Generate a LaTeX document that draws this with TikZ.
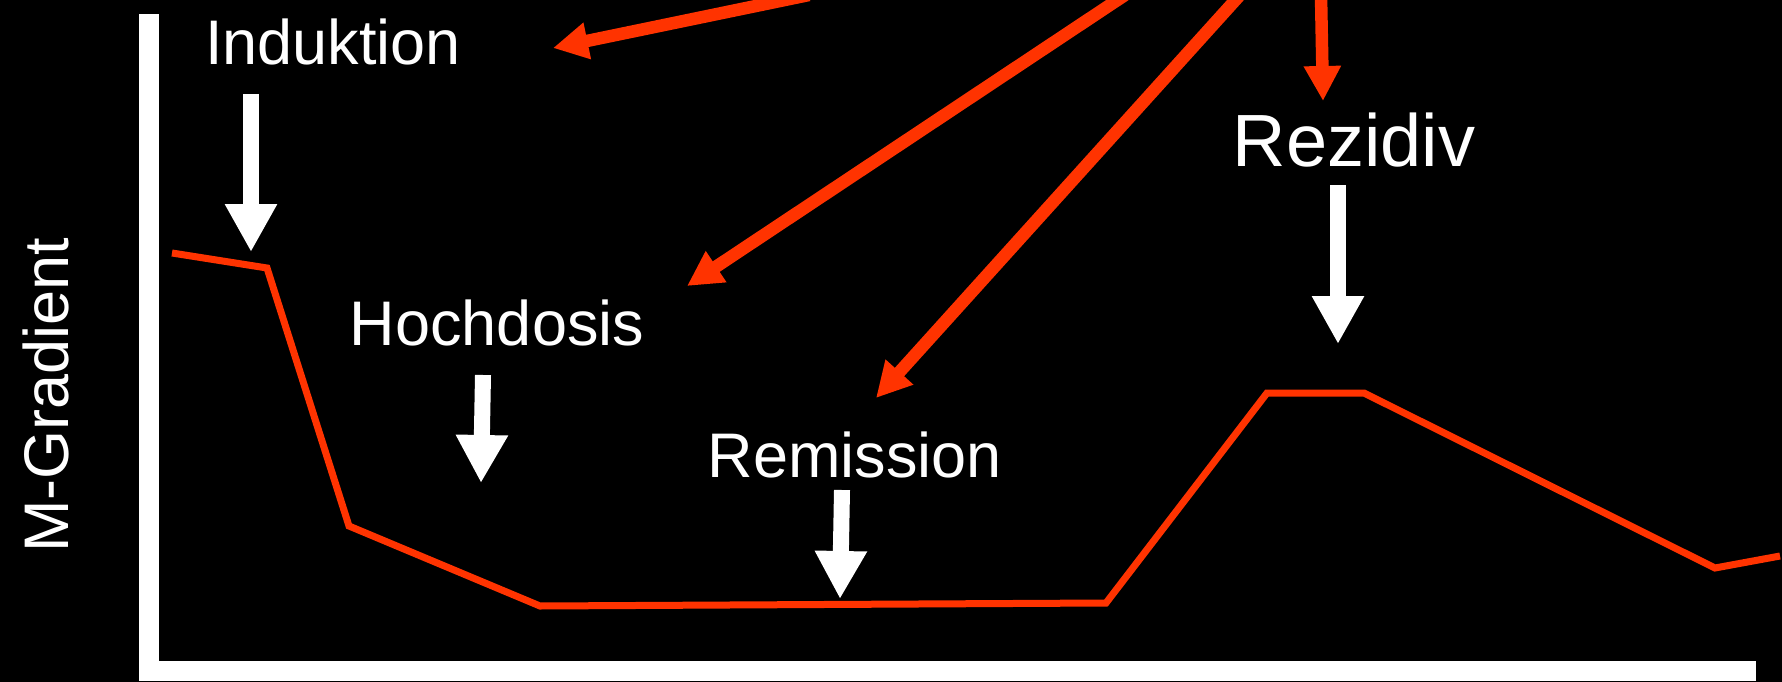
\documentclass[tikz,border=0pt]{standalone}
\usepackage{fontspec}
\setmainfont{Liberation Sans}
\usepackage{xcolor}
\usetikzlibrary{arrows.meta}
\definecolor{curvered}{HTML}{FF3300}

\begin{document}
\begin{tikzpicture}[x=1pt,y=-1pt,
    txt/.style={text=white,font=\fontsize{63}{70}\selectfont,inner sep=0pt,anchor=base},
    whitearrow/.style={draw=white,line width=16pt,-{Triangle[length=48pt,width=49pt]}},
    redarrow/.style={draw=curvered,line width=12.5pt,-{Triangle[length=35pt,width=35pt]}},
    redline/.style={draw=curvered,line width=7pt}]
    \useasboundingbox (0,0) rectangle (1782,682);
    \fill[black] (0,0) rectangle (1782,682);
    \clip (0,0) rectangle (1782,682);

    % axes
    \fill[white] (139,14) rectangle (159,681);
    \fill[white] (139,661) rectangle (1756,681);
    \node[txt,rotate=90] (ylab) at (68,395) {M-Gradient};

    \node[txt] (induk) at (333,65) {Induktion};
    \node[txt] (hoch) at (497,345) {Hochdosis};
    \node[txt] (remis) at (855,477) {Remission};
    \node[txt,font=\fontsize{74}{80}\selectfont] (rezid) at (1354,166) {Rezidiv};

    % curve
    \coordinate (P1) at (172,253);
    \coordinate (P2) at (267,268);
    \coordinate (P3) at (349,526);
    \coordinate (P4) at (540,606);
    \coordinate (P5) at (1106,603);
    \coordinate (P6) at (1267,393);
    \coordinate (P7) at (1364,393);
    \coordinate (P8) at (1715,568);
    \coordinate (P9) at (1780,556);
    \draw[redline] (P1) -- (P2) -- (P3) -- (P4) -- (P5) -- (P6) -- (P7) -- (P8) -- (P9);

    % white arrows
    \coordinate (W1) at (251,94);   \coordinate (T1) at (251,252);
    \coordinate (W2) at (483,375);  \coordinate (T2) at (481,483);
    \coordinate (W3) at (842,490);  \coordinate (T3) at (840,599);
    \coordinate (W4) at (1338,185); \coordinate (T4) at (1338,344);
    \draw[whitearrow] (W1) -- (T1);
    \draw[whitearrow] (W2) -- (T2);
    \draw[whitearrow] (W3) -- (T3);
    \draw[whitearrow] (W4) -- (T4);

    % red arrows from the top
    \coordinate (R1) at (809,-5);  \coordinate (S1) at (553,48);
    \coordinate (R2) at (1125,-5); \coordinate (S2) at (687,286);
    \coordinate (R3) at (1240,-5); \coordinate (S3) at (876,398);
    \coordinate (R4) at (1321,-5); \coordinate (S4) at (1323,101);
    \draw[redarrow] (R1) -- (S1);
    \draw[redarrow] (R2) -- (S2);
    \draw[redarrow] (R3) -- (S3);
    \draw[redarrow] (R4) -- (S4);
\end{tikzpicture}
\end{document}
